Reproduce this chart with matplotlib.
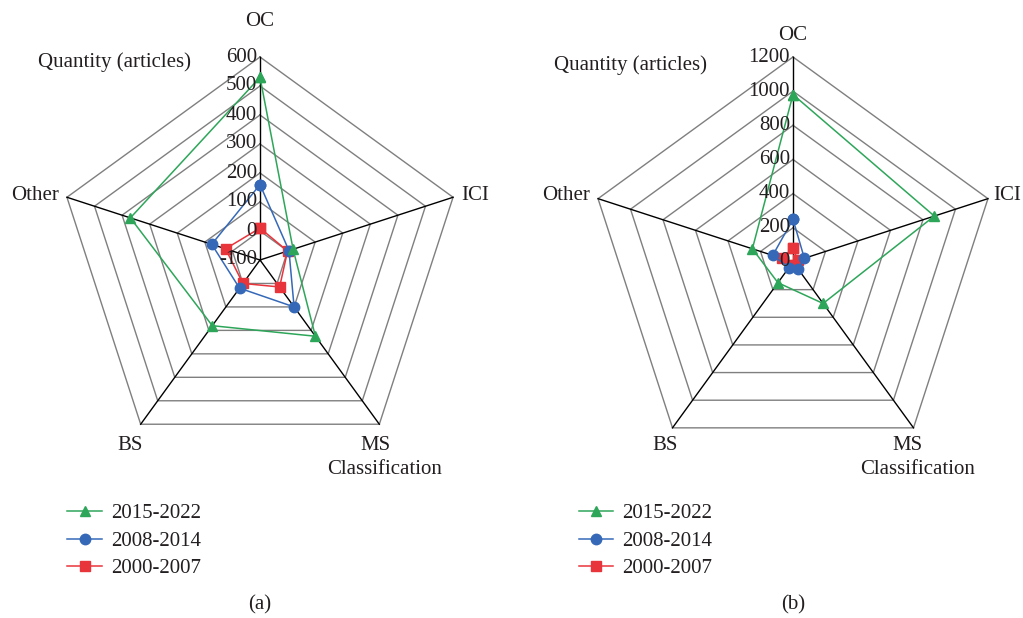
import numpy as np
import matplotlib.pyplot as plt

plt.rcParams['font.family'] = ['Liberation Serif', 'DejaVu Serif']

# categories (clockwise from top)
categories = ['OC', 'ICI', 'MS', 'BS', 'Other']
series_names = ['2015-2022', '2008-2014', '2000-2007']

# (a) values
a_2015 = [530, 20, 225, 180, 370]
a_2008 = [160, 5, 100, 20, 75]
a_2000 = [10, 0, 15, 0, 25]
a_ticks = [-100, 0, 100, 200, 300, 400, 500, 600]

# (b) values
b_2015 = [980, 870, 300, 150, 250]
b_2008 = [250, 70, 50, 40, 125]
b_2000 = [80, 30, 20, 20, 70]
b_ticks = [0, 200, 400, 600, 800, 1000, 1200]

colors = {'2015-2022': '#2ea65a', '2008-2014': '#3569b8', '2000-2007': '#e8343b'}
markers = {'2015-2022': '^', '2008-2014': 'o', '2000-2007': 's'}

angles = np.deg2rad(90 - 72 * np.arange(5))

fig = plt.figure(figsize=(10.23, 6.18), dpi=100)
FS = 15


def radar(ax, data, ticks, R, label_pos):
    vmin, vmax = ticks[0], ticks[-1]

    def xy(vals):
        r = (np.asarray(vals, float) - vmin) / (vmax - vmin) * R
        x = r * np.cos(angles)
        y = r * np.sin(angles)
        return np.append(x, x[0]), np.append(y, y[0])

    # rings
    for t in ticks[1:]:
        x, y = xy([t] * 5)
        ax.plot(x, y, color='#7f7f7f', lw=1.0, zorder=1)
    # spokes
    for a in angles:
        ax.plot([0, R * np.cos(a)], [0, R * np.sin(a)], color='black', lw=1.0, zorder=2)
    # tick labels
    for t in ticks:
        r = (t - vmin) / (vmax - vmin) * R
        ax.text(-3, r, str(t), ha='right', va='center', fontsize=FS, color='#231f20', zorder=5)

    handles = []
    for name in ['2000-2007', '2008-2014', '2015-2022']:
        x, y = xy(data[name])
        h, = ax.plot(x, y, color=colors[name], lw=1.1, marker=markers[name],
                     markersize=7.5, zorder=3, label=name)
        handles.append(h)

    for txt, (px, py), ha in label_pos:
        ax.text(px, py, txt, ha=ha, va='center', fontsize=FS, color='#231f20')

    ax.legend(handles[::-1], series_names, loc='upper left', frameon=False,
              bbox_to_anchor=(0.095, 0.215), fontsize=FS, handlelength=1.65,
              labelspacing=0.38, handletextpad=0.45, labelcolor='#231f20')
    ax.set_aspect('equal')
    ax.axis('off')


# left panel: axes spans x pixels 0..511.5, full height; centre at (260, 260)
ax1 = fig.add_axes([0, 0, 0.5, 1])
ax1.set_xlim(-260, 251.5)
ax1.set_ylim(-358, 260)
radar(ax1, {'2015-2022': a_2015, '2008-2014': a_2008, '2000-2007': a_2000}, a_ticks, 203,
      [('OC', (0, 238), 'center'), ('ICI', (215, 64), 'center'),
       ('MS', (115, -185), 'center'), ('Classification', (125, -210), 'center'),
       ('BS', (-130, -185), 'center'), ('Other', (-225, 64), 'center'),
       ('Quantity (articles)', (-145, 198), 'center'), ('(a)', (0, -345), 'center')])

ax2 = fig.add_axes([0.5, 0, 0.5, 1])
ax2.set_xlim(-281.5, 230)
ax2.set_ylim(-356, 262)
radar(ax2, {'2015-2022': b_2015, '2008-2014': b_2008, '2000-2007': b_2000}, b_ticks, 205,
      [('OC', (0, 227), 'center'), ('ICI', (214, 66), 'center'),
       ('MS', (114, -183), 'center'), ('Classification', (125, -208), 'center'),
       ('BS', (-128, -183), 'center'), ('Other', (-227, 66), 'center'),
       ('Quantity (articles)', (-163, 197), 'center'), ('(b)', (0, -343), 'center')])

fig.savefig('out.png', dpi=100)
